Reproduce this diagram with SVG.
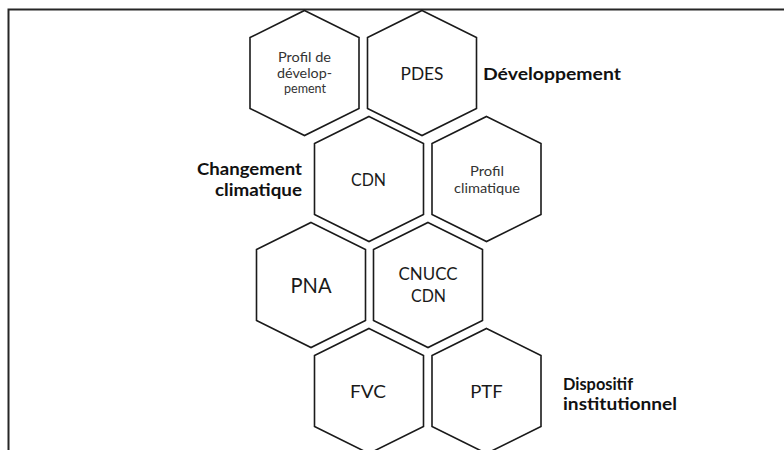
<svg xmlns="http://www.w3.org/2000/svg" width="784" height="450" viewBox="0 0 784 450">
<style>
.hex{fill:#ffffff;stroke:#1a1a1a;stroke-width:1.6;stroke-linejoin:miter}
.frame{fill:none;stroke:#262626;stroke-width:2}
.t{font-family:Lato,"Liberation Sans",sans-serif;fill:#1a1a1a;text-anchor:middle}
.big{font-size:18px}
.sm{font-size:14px;fill:#333333}
.lbl{font-family:Lato,"Liberation Sans",sans-serif;font-weight:bold;font-size:17px;fill:#111111}
</style>
<rect x="0" y="0" width="784" height="450" fill="#ffffff"/>
<path class="frame" d="M8.5,450 V9.5 H784"/>
<g id="connectors"></g>
<g id="node-profil-dev">
<polygon class="hex" points="304.5,10.5 359,37.5 359,108.5 304.5,135.5 250,108.5 250,37.5"/>
<text class="t sm" x="304.5" y="62" textLength="53" lengthAdjust="spacingAndGlyphs">Profil de</text>
<text class="t sm" x="304.5" y="77.5" textLength="55" lengthAdjust="spacingAndGlyphs">dévelop-</text>
<text class="t sm" x="305" y="93" textLength="42" lengthAdjust="spacingAndGlyphs">pement</text>
</g>
<g id="node-pdes">
<polygon class="hex" points="422,10.5 476.5,37.5 476.5,108.5 422,135.5 367.5,108.5 367.5,37.5"/>
<text class="t big" x="422" y="80" textLength="43" lengthAdjust="spacingAndGlyphs">PDES</text>
</g>
<g id="node-cdn">
<polygon class="hex" points="369,116.5 423.5,143.5 423.5,214.5 369,241.5 314.5,214.5 314.5,143.5"/>
<text class="t big" x="368.5" y="186" textLength="35" lengthAdjust="spacingAndGlyphs">CDN</text>
</g>
<g id="node-profil-clim">
<polygon class="hex" points="486.5,116.5 541,143.5 541,214.5 486.5,241.5 432,214.5 432,143.5"/>
<text class="t sm" x="487" y="176" textLength="34" lengthAdjust="spacingAndGlyphs">Profil</text>
<text class="t sm" x="487" y="193" textLength="66" lengthAdjust="spacingAndGlyphs">climatique</text>
</g>
<g id="node-pna">
<polygon class="hex" points="311,222.5 365.5,249.5 365.5,320.5 311,347.5 256.5,320.5 256.5,249.5"/>
<text class="t" font-size="21" x="311" y="293" textLength="41" lengthAdjust="spacingAndGlyphs">PNA</text>
</g>
<g id="node-cnucc">
<polygon class="hex" points="428,222.5 482.5,249.5 482.5,320.5 428,347.5 373.5,320.5 373.5,249.5"/>
<text class="t big" x="428" y="280" textLength="59" lengthAdjust="spacingAndGlyphs">CNUCC</text>
<text class="t big" x="428.5" y="302" textLength="35" lengthAdjust="spacingAndGlyphs">CDN</text>
</g>
<g id="node-fvc">
<polygon class="hex" points="369,328.5 423.5,355.5 423.5,426.5 369,453.5 314.5,426.5 314.5,355.5"/>
<text class="t big" x="368" y="398" textLength="36" lengthAdjust="spacingAndGlyphs">FVC</text>
</g>
<g id="node-ptf">
<polygon class="hex" points="486.5,328.5 541,355.5 541,426.5 486.5,453.5 432,426.5 432,355.5"/>
<text class="t big" x="486.5" y="398" textLength="32.5" lengthAdjust="spacingAndGlyphs">PTF</text>
</g>
<g id="label-dev">
<text class="lbl" x="483" y="80" textLength="138" lengthAdjust="spacingAndGlyphs">Développement</text>
</g>
<g id="label-cc">
<text class="lbl" x="302" y="175" text-anchor="end" textLength="105" lengthAdjust="spacingAndGlyphs">Changement</text>
<text class="lbl" x="302" y="196" text-anchor="end" textLength="87" lengthAdjust="spacingAndGlyphs">climatique</text>
</g>
<g id="label-disp">
<text class="lbl" x="563" y="390" textLength="70" lengthAdjust="spacingAndGlyphs">Dispositif</text>
<text class="lbl" x="563" y="410" textLength="114" lengthAdjust="spacingAndGlyphs">institutionnel</text>
</g>
</svg>
